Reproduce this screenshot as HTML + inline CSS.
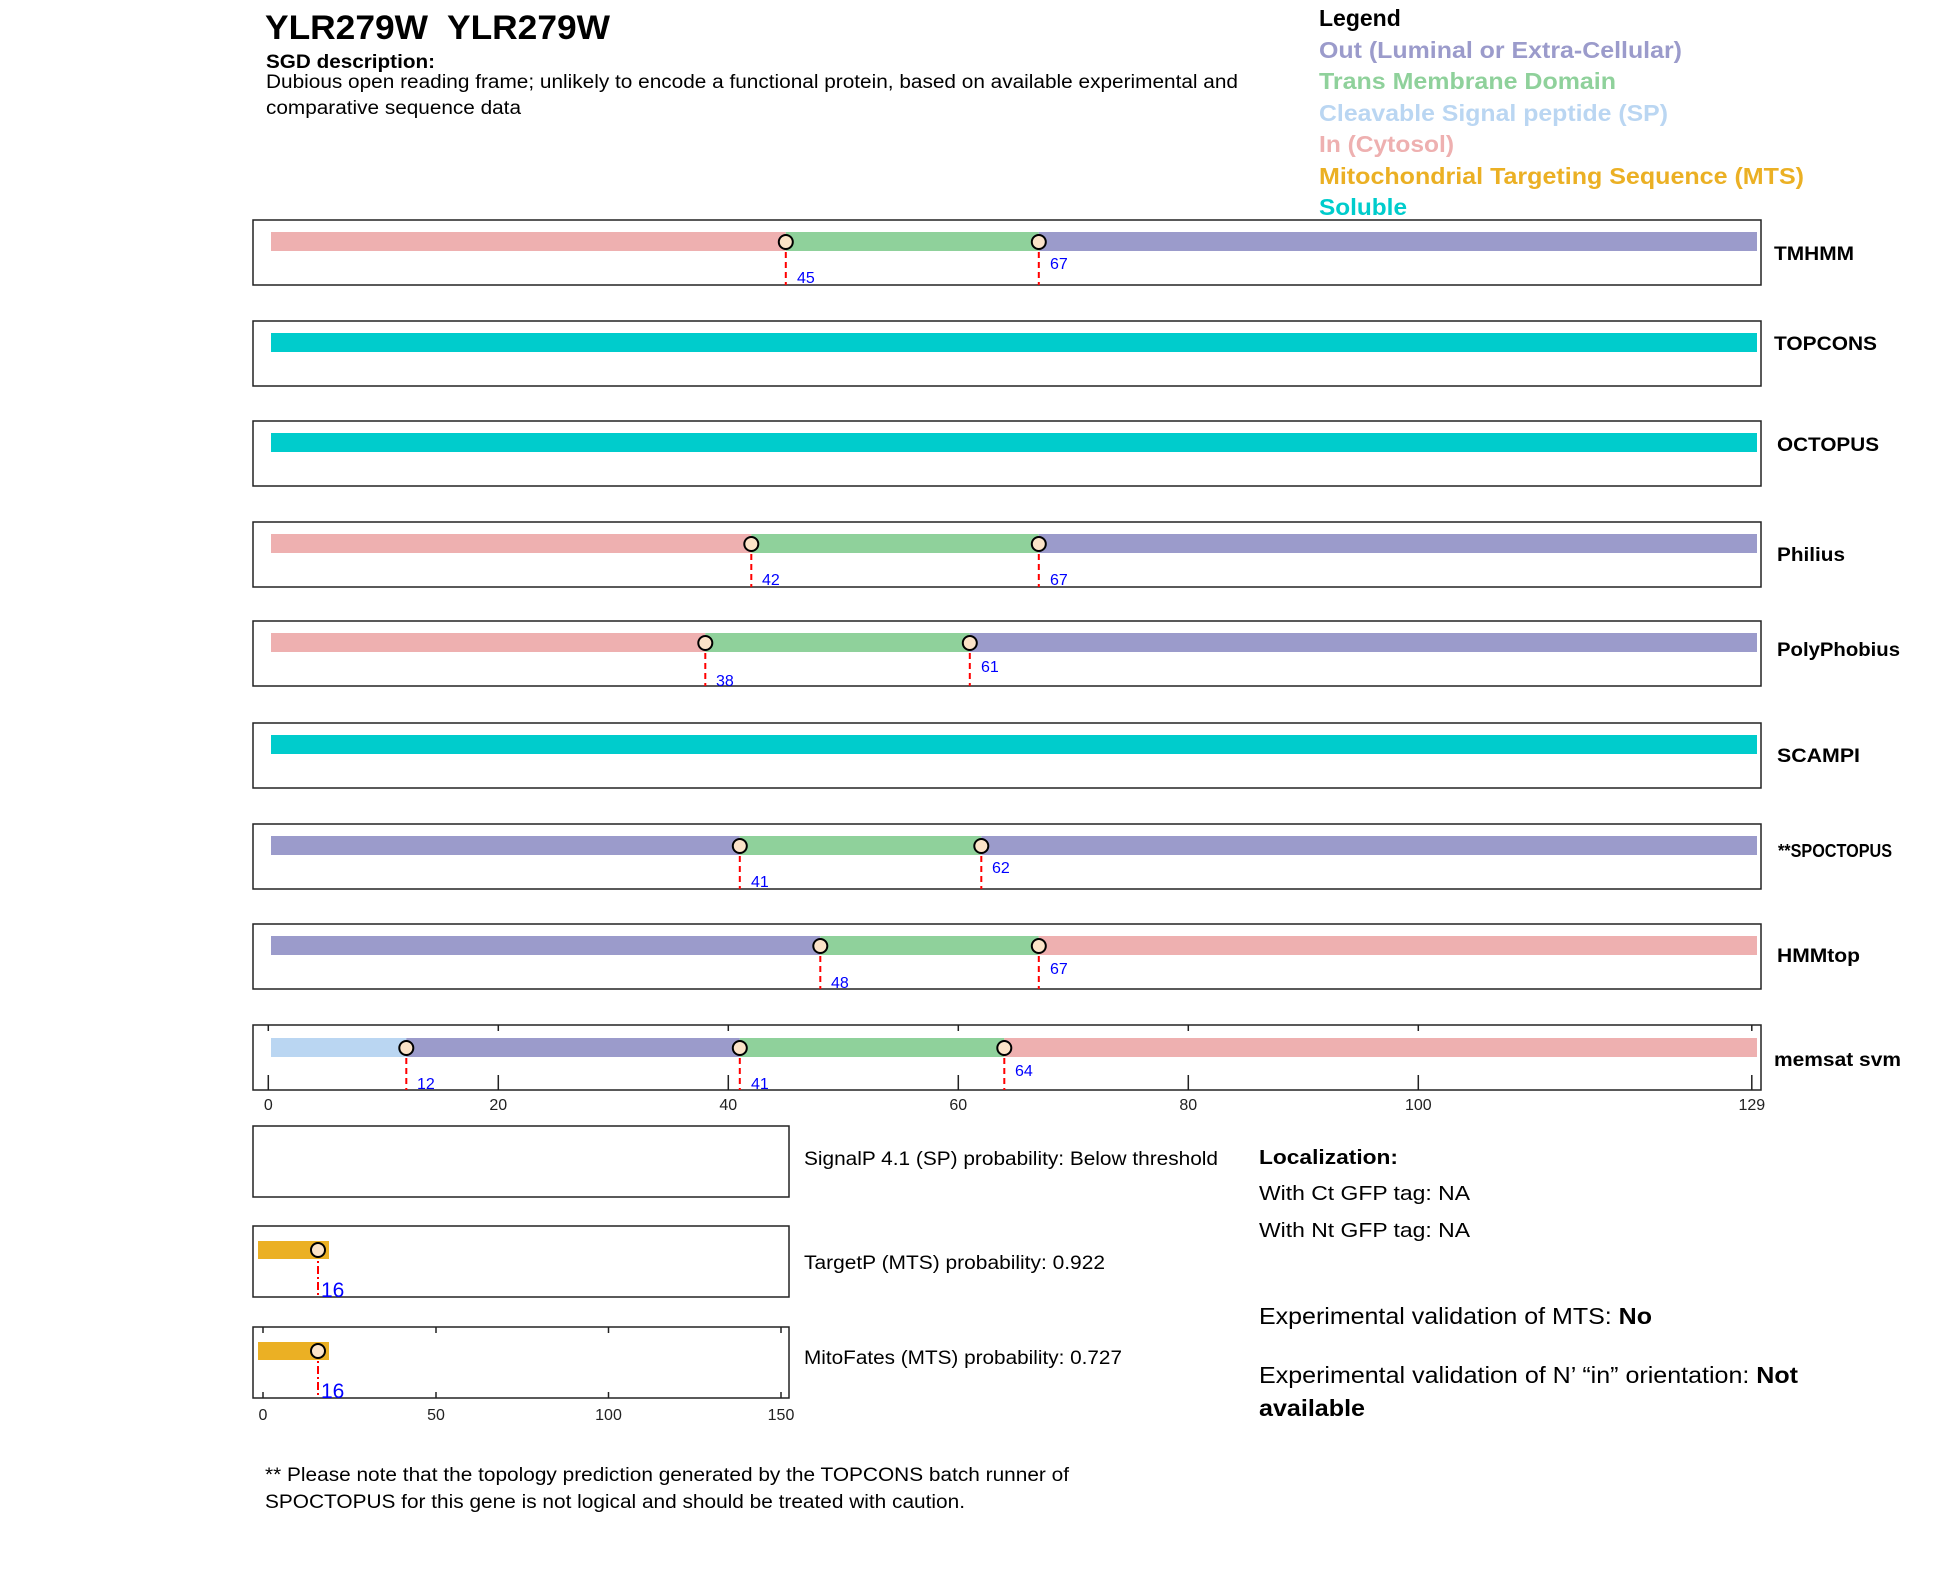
<!DOCTYPE html>
<html><head><meta charset="utf-8"><style>body{margin:0;background:#fff}svg{display:block}text{font-family:"Liberation Sans",Arial,sans-serif}</style></head><body>
<svg width="1950" height="1573" viewBox="0 0 1950 1573" xmlns="http://www.w3.org/2000/svg">
<defs>
<g id="c"><circle r="7" fill="#fbe3c8" stroke="#000" stroke-width="2"/></g>
</defs>
<text x="265" y="39" font-size="34" font-weight="bold" textLength="345" lengthAdjust="spacingAndGlyphs" xml:space="preserve">YLR279W  YLR279W</text>
<text x="266" y="68" font-size="19" font-weight="bold" textLength="169" lengthAdjust="spacingAndGlyphs">SGD description:</text>
<text x="266" y="88" font-size="19" textLength="972" lengthAdjust="spacingAndGlyphs">Dubious open reading frame; unlikely to encode a functional protein, based on available experimental and</text>
<text x="266" y="114" font-size="19" textLength="255" lengthAdjust="spacingAndGlyphs">comparative sequence data</text>
<g font-size="23" font-weight="bold">
<text x="1319" y="26" fill="#000">Legend</text>
<text x="1319" y="58" fill="#9b9bcb" textLength="363" lengthAdjust="spacingAndGlyphs">Out (Luminal or Extra-Cellular)</text>
<text x="1319" y="89" fill="#8fd19b" textLength="297" lengthAdjust="spacingAndGlyphs">Trans Membrane Domain</text>
<text x="1319" y="121" fill="#bad6f2" textLength="349" lengthAdjust="spacingAndGlyphs">Cleavable Signal peptide (SP)</text>
<text x="1319" y="152" fill="#eeb0b0" textLength="135" lengthAdjust="spacingAndGlyphs">In (Cytosol)</text>
<text x="1319" y="184" fill="#ebb024" textLength="485" lengthAdjust="spacingAndGlyphs">Mitochondrial Targeting Sequence (MTS)</text>
<text x="1319" y="215" fill="#00cccc" textLength="88" lengthAdjust="spacingAndGlyphs">Soluble</text>
</g>
<g fill="none" stroke="#222" stroke-width="1.5">
<rect x="253" y="220" width="1508" height="65"/>
<rect x="253" y="321" width="1508" height="65"/>
<rect x="253" y="421" width="1508" height="65"/>
<rect x="253" y="522" width="1508" height="65"/>
<rect x="253" y="621" width="1508" height="65"/>
<rect x="253" y="723" width="1508" height="65"/>
<rect x="253" y="824" width="1508" height="65"/>
<rect x="253" y="924" width="1508" height="65"/>
<rect x="253" y="1025" width="1508" height="65"/>
<rect x="253" y="1126" width="536" height="71"/>
<rect x="253" y="1226" width="536" height="71"/>
<rect x="253" y="1327" width="536" height="71"/>
</g>
<rect x="271" y="232" width="514.8" height="19" fill="#eeb0b0"/><rect x="785.8" y="232" width="253" height="19" fill="#8fd19b"/><rect x="1038.8" y="232" width="718.2" height="19" fill="#9b9bcb"/>
<rect x="271" y="333" width="1486" height="19" fill="#00cccc"/>
<rect x="271" y="433" width="1486" height="19" fill="#00cccc"/>
<rect x="271" y="534" width="480.3" height="19" fill="#eeb0b0"/><rect x="751.3" y="534" width="287.5" height="19" fill="#8fd19b"/><rect x="1038.8" y="534" width="718.2" height="19" fill="#9b9bcb"/>
<rect x="271" y="633" width="434.3" height="19" fill="#eeb0b0"/><rect x="705.3" y="633" width="264.5" height="19" fill="#8fd19b"/><rect x="969.8" y="633" width="787.2" height="19" fill="#9b9bcb"/>
<rect x="271" y="735" width="1486" height="19" fill="#00cccc"/>
<rect x="271" y="836" width="468.8" height="19" fill="#9b9bcb"/><rect x="739.8" y="836" width="241.5" height="19" fill="#8fd19b"/><rect x="981.3" y="836" width="775.7" height="19" fill="#9b9bcb"/>
<rect x="271" y="936" width="549.3" height="19" fill="#9b9bcb"/><rect x="820.3" y="936" width="218.5" height="19" fill="#8fd19b"/><rect x="1038.8" y="936" width="718.2" height="19" fill="#eeb0b0"/>
<rect x="271" y="1038" width="135.3" height="19" fill="#bad6f2"/><rect x="406.3" y="1038" width="333.5" height="19" fill="#9b9bcb"/><rect x="739.8" y="1038" width="264.5" height="19" fill="#8fd19b"/><rect x="1004.3" y="1038" width="752.7" height="19" fill="#eeb0b0"/>
<g stroke="#222" stroke-width="1.5">
<path d="M268.3 1025v6M498.3 1025v6M728.3 1025v6M958.3 1025v6M1188.3 1025v6M1418.3 1025v6M1751.8 1025v6"/>
<path d="M268.3 1090v-15M498.3 1090v-15M728.3 1090v-15M958.3 1090v-15M1188.3 1090v-15M1418.3 1090v-15M1751.8 1090v-15"/>
<path d="M263 1327v6M436 1327v6M608.5 1327v6M781 1327v6M263 1398v-6M436 1398v-6M608.5 1398v-6M781 1398v-6"/>
</g>
<g font-size="16" fill="#222" text-anchor="middle">
<text x="268.3" y="1110">0</text><text x="498.3" y="1110">20</text><text x="728.3" y="1110">40</text><text x="958.3" y="1110">60</text><text x="1188.3" y="1110">80</text><text x="1418.3" y="1110">100</text><text x="1751.8" y="1110">129</text>
<text x="263" y="1420">0</text><text x="436" y="1420">50</text><text x="608.5" y="1420">100</text><text x="781" y="1420">150</text>
</g>
<g stroke="red" stroke-width="2" stroke-dasharray="6,4">
<path d="M785.8 242V285M1038.8 242V285"/>
<path d="M751.3 544V587M1038.8 544V587"/>
<path d="M705.3 643V686M969.8 643V686"/>
<path d="M739.8 846V889M981.3 846V889"/>
<path d="M820.3 946V989M1038.8 946V989"/>
<path d="M406.3 1048V1090M739.8 1048V1090M1004.3 1048V1090"/>
</g>
<g stroke="red" stroke-width="2" stroke-dasharray="8,3,2,3">
<path d="M318 1250V1297M318 1350V1398"/>
</g>
<use href="#c" x="785.8" y="242"/><use href="#c" x="1038.8" y="242"/>
<use href="#c" x="751.3" y="544"/><use href="#c" x="1038.8" y="544"/>
<use href="#c" x="705.3" y="643"/><use href="#c" x="969.8" y="643"/>
<use href="#c" x="739.8" y="846"/><use href="#c" x="981.3" y="846"/>
<use href="#c" x="820.3" y="946"/><use href="#c" x="1038.8" y="946"/>
<use href="#c" x="406.3" y="1048"/><use href="#c" x="739.8" y="1048"/><use href="#c" x="1004.3" y="1048"/>
<g font-size="16" fill="#00f">
<text x="797" y="283">45</text><text x="1050" y="269">67</text>
<text x="762" y="585">42</text><text x="1050" y="585">67</text>
<text x="716" y="686">38</text><text x="981" y="672">61</text>
<text x="751" y="887">41</text><text x="992" y="873">62</text>
<text x="831" y="988">48</text><text x="1050" y="974">67</text>
<text x="417" y="1089">12</text><text x="751" y="1089">41</text><text x="1015" y="1076">64</text>
</g>
<rect x="258" y="1241" width="71" height="18" fill="#ebb024"/>
<rect x="258" y="1342" width="71" height="18" fill="#ebb024"/>
<use href="#c" x="318" y="1250"/><use href="#c" x="318" y="1351"/>
<g font-size="21" fill="#00f"><text x="321" y="1297">16</text><text x="321" y="1398">16</text></g>
<g font-size="19" font-weight="bold">
<text x="1774" y="260" textLength="80" lengthAdjust="spacingAndGlyphs">TMHMM</text>
<text x="1774" y="350" textLength="103" lengthAdjust="spacingAndGlyphs">TOPCONS</text>
<text x="1777" y="451" textLength="102" lengthAdjust="spacingAndGlyphs">OCTOPUS</text>
<text x="1777" y="561" textLength="68" lengthAdjust="spacingAndGlyphs">Philius</text>
<text x="1777" y="656" textLength="123" lengthAdjust="spacingAndGlyphs">PolyPhobius</text>
<text x="1777" y="762" textLength="83" lengthAdjust="spacingAndGlyphs">SCAMPI</text>
<text x="1778" y="857" font-size="18" textLength="114" lengthAdjust="spacingAndGlyphs">**SPOCTOPUS</text>
<text x="1777" y="962" textLength="83" lengthAdjust="spacingAndGlyphs">HMMtop</text>
<text x="1774" y="1066" textLength="127" lengthAdjust="spacingAndGlyphs">memsat svm</text>
</g>
<g font-size="19">
<text x="804" y="1165" textLength="414" lengthAdjust="spacingAndGlyphs">SignalP 4.1 (SP) probability: Below threshold</text>
<text x="804" y="1269" textLength="301" lengthAdjust="spacingAndGlyphs">TargetP (MTS) probability: 0.922</text>
<text x="804" y="1364" textLength="318" lengthAdjust="spacingAndGlyphs">MitoFates (MTS) probability: 0.727</text>
<text x="1259" y="1164" font-weight="bold" font-size="20" textLength="139" lengthAdjust="spacingAndGlyphs">Localization:</text>
<text x="1259" y="1200" font-size="20" textLength="211" lengthAdjust="spacingAndGlyphs">With Ct GFP tag: NA</text>
<text x="1259" y="1237" font-size="20" textLength="211" lengthAdjust="spacingAndGlyphs">With Nt GFP tag: NA</text>
<text x="1259" y="1324" font-size="23" textLength="393" lengthAdjust="spacingAndGlyphs">Experimental validation of MTS: <tspan font-weight="bold">No</tspan></text>
<text x="1259" y="1383" font-size="23" textLength="539" lengthAdjust="spacingAndGlyphs">Experimental validation of N’ “in” orientation: <tspan font-weight="bold">Not</tspan></text>
<text x="1259" y="1416" font-size="23" font-weight="bold" textLength="106" lengthAdjust="spacingAndGlyphs">available</text>
<text x="265" y="1481" textLength="804" lengthAdjust="spacingAndGlyphs">** Please note that the topology prediction generated by the TOPCONS batch runner of</text>
<text x="265" y="1508" textLength="700" lengthAdjust="spacingAndGlyphs">SPOCTOPUS for this gene is not logical and should be treated with caution.</text>
</g>
</svg>
</body></html>
